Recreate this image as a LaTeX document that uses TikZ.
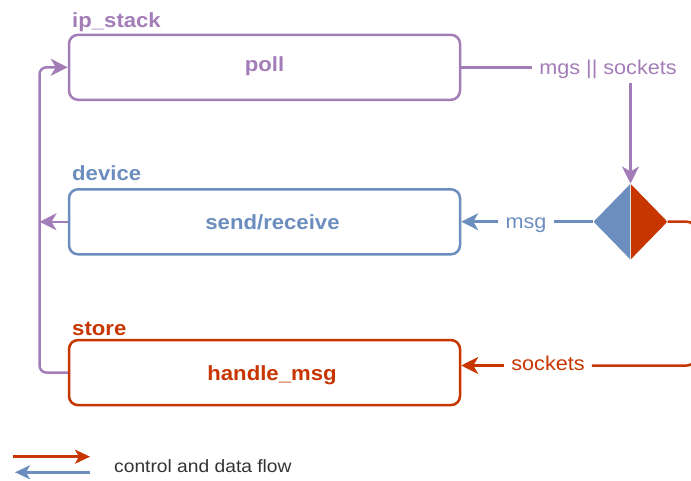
\documentclass[tikz,border=0pt]{standalone}
\usepackage{fontspec}
\setmainfont{Liberation Sans}[FakeStretch=1.08]
\usetikzlibrary{arrows.meta,shapes.geometric}
\definecolor{purp}{HTML}{A37DB8}
\definecolor{blu}{HTML}{6C8EBF}
\definecolor{rd}{HTML}{C73500}
\definecolor{legendtext}{HTML}{333333}

\begin{document}
\begin{tikzpicture}[x=1pt,y=-1pt,
  box/.style={draw, line width=2.5pt, rounded corners=9pt, minimum width=391pt, minimum height=65pt, inner sep=0pt},
  boxtext/.style={font=\fontsize{20.5}{20.5}\selectfont\bfseries, anchor=base, inner sep=0pt},
  grouplabel/.style={font=\fontsize{20.5}{20.5}\selectfont\bfseries, anchor=base west, inner sep=0pt},
  flowlabel/.style={font=\fontsize{20}{20}\selectfont, anchor=base, text height=14pt, text depth=4pt, inner xsep=7pt, inner ysep=5pt},
  flow/.style={line width=2.5pt},
  tip/.style={-{Stealth[length=17pt,width=17pt,inset=5pt]}},
]
\useasboundingbox (0,0) rectangle (691,481);
\clip (0,0) rectangle (691,481);

% components
\node[box, draw=purp] (poll) at (264.5,67.3) {};
\node[boxtext, text=purp] (pollt) at (264.5,71.5) {poll};
\node[grouplabel, text=purp] (ipstack) at (72,27.7) {ip\_stack};

\node[box, draw=blu] (send) at (264.5,221.8) {};
\node[boxtext, text=blu] (sendt) at (272.5,229.3) {send/receive};
\node[grouplabel, text=blu] (device) at (72,180.7) {device};

\node[box, draw=rd] (handle) at (264.5,372.6) {};
\node[boxtext, text=rd] (handlet) at (272,380) {handle\_msg};
\node[grouplabel, text=rd] (store) at (72,335) {store};

% flow labels
\node[flowlabel, text=purp] (mgs) at (608,74.3) {mgs || sockets};
\node[flowlabel, text=blu] (msg) at (526,229) {msg};
\node[flowlabel, text=rd] (sockets) at (548,370.5) {sockets};

% dispatch diamond, split blue / red
\node[diamond, minimum width=74pt, minimum height=76pt, inner sep=0pt,
  path picture={
    \fill[blu] (path picture bounding box.north west) rectangle (path picture bounding box.south);
    \fill[rd] (path picture bounding box.north) rectangle (path picture bounding box.south east);
    \draw[white!75!gray, line width=0.8pt] (path picture bounding box.north) -- (path picture bounding box.south);
  }] (split) at (630.5,221.7) {};

% rails
\coordinate (rail) at (39.5,0);
\coordinate (rrail) at (695,0);

% purple: poll -> dispatch
\draw[flow, purp] (poll.east) -- (poll.east -| mgs.west);
\draw[flow, purp, tip] (split.north |- mgs.south) -- (split.north);

% blue: dispatch -> send/receive
\draw[flow, blu] (split.west) -- (split.west -| msg.east);
\draw[flow, blu, tip] (msg.west |- split.west) -- (send.east |- split.west);

% red: dispatch -> handle_msg
\draw[flow, rd, rounded corners=8pt] (split.east) -| (rrail |- sockets.east) -- (sockets.east);
\draw[flow, rd, tip] (sockets.west) -- (sockets.west -| handle.east);

% purple loop back to poll
\draw[flow, purp, rounded corners=7pt, tip] (handle.west) -| (rail |- poll.west) -- (poll.west);
\draw[flow, purp, tip] (send.west) -- (send.west -| rail);

% legend
\coordinate (lgra) at (13,456.7);
\coordinate (lgrb) at (90,456.7);
\coordinate (lgba) at (90,472.3);
\coordinate (lgbb) at (15,472.3);
\draw[flow, rd, -{Stealth[length=15pt,width=14pt,inset=4pt]}] (lgra) -- (lgrb);
\draw[flow, blu, -{Stealth[length=15pt,width=14pt,inset=4pt]}] (lgba) -- (lgbb);
\node[anchor=west, inner sep=0pt, text=legendtext, font=\fontsize{17.8}{17.8}\selectfont] (legend) at (114,466) {control and data flow};
\end{tikzpicture}
\end{document}
